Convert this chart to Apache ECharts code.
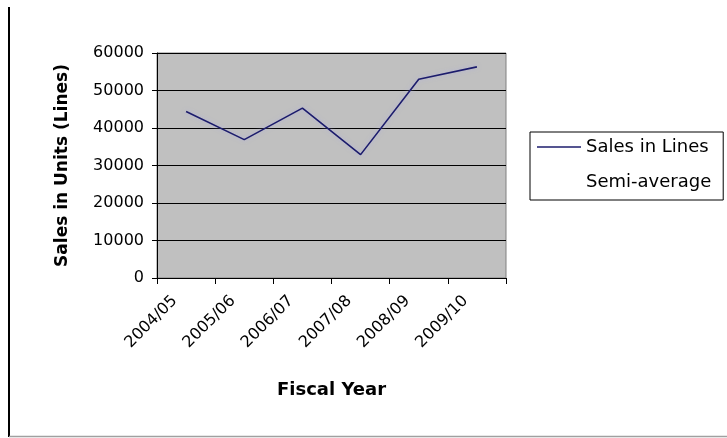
<!DOCTYPE html>
<html>
<head>
<meta charset="utf-8">
<script src="https://cdn.jsdelivr.net/npm/echarts@6/dist/echarts.min.js"></script>
<style>
html,body{margin:0;padding:0;background:#fff;}
#c{width:727px;height:438px;}
</style>
</head>
<body>
<div id="c"></div>
<script>
var categories = ['2004/05', '2005/06', '2006/07', '2007/08', '2008/09', '2009/10'];
var salesInLines = [44400, 36900, 45300, 32900, 53000, 56300];
var semiAverage = [];
var yTicks = { min: 0, max: 60000, interval: 10000 };

var chart = echarts.init(document.getElementById('c'), null, { renderer: 'canvas' });
var FONT = 'DejaVu Sans';
chart.setOption({
  animation: false,
  backgroundColor: '#ffffff',
  grid: {
    left: 157, right: 221, top: 53, bottom: 160,
    show: true, backgroundColor: '#c0c0c0', borderColor: '#808080', borderWidth: 1
  },
  legend: {
    orient: 'vertical',
    left: 530, top: 132,
    borderColor: '#000', borderWidth: 1,
    padding: [5, 12, 8, 7],
    itemGap: 15,
    itemWidth: 44, itemHeight: 1.5,
    textStyle: { fontFamily: FONT, fontSize: 18, color: '#000', lineHeight: 20 },
    data: [
      { name: 'Sales in Lines', icon: 'rect', itemStyle: { color: '#1c1c6c' } },
      { name: 'Semi-average', icon: 'none' }
    ]
  },
  xAxis: {
    type: 'category',
    data: categories,
    boundaryGap: true,
    name: 'Fiscal Year',
    nameLocation: 'middle',
    nameGap: 103,
    nameTextStyle: { fontFamily: FONT, fontSize: 18, fontWeight: 'bold', color: '#000' },
    axisLine: { lineStyle: { color: '#000', width: 1 } },
    axisTick: { show: true, alignWithLabel: false, length: 6, lineStyle: { color: '#000' } },
    axisLabel: {
      rotate: 45, interval: 0, margin: 9,
      fontFamily: FONT, fontSize: 16, color: '#000',
      padding: [0, 16, 0, 0]
    },
    splitLine: { show: false }
  },
  yAxis: {
    type: 'value',
    min: yTicks.min, max: yTicks.max, interval: yTicks.interval,
    name: 'Sales in Units (Lines)',
    nameLocation: 'middle',
    nameGap: 86,
    nameTextStyle: { fontFamily: FONT, fontSize: 17, fontWeight: 'bold', color: '#000' },
    axisLine: { show: true, lineStyle: { color: '#000', width: 1 } },
    axisTick: { show: true, length: 5, lineStyle: { color: '#000' } },
    axisLabel: { margin: 13, fontFamily: FONT, fontSize: 16, color: '#000', formatter: function (v) { return String(v); } },
    splitLine: { show: true, lineStyle: { color: '#000', width: 1 } }
  },
  series: [
    {
      name: 'Sales in Lines',
      type: 'line',
      data: salesInLines,
      symbol: 'none',
      color: '#1c1c6c',
      lineStyle: { color: '#1c1c6c', width: 1.6, shadowColor: 'rgba(170,170,230,0.7)', shadowBlur: 4 }
    },
    {
      name: 'Semi-average',
      type: 'line',
      data: semiAverage,
      symbol: 'none',
      color: 'rgba(0,0,0,0)',
      lineStyle: { color: 'rgba(0,0,0,0)' }
    }
  ],
  graphic: [
    { type: 'line', shape: { x1: 9, y1: 7, x2: 9, y2: 437 }, style: { stroke: '#000', lineWidth: 2 } },
    { type: 'line', shape: { x1: 9, y1: 436.5, x2: 727, y2: 436.5 }, style: { stroke: '#a0a0a0', lineWidth: 1.5 } }
  ]
});
</script>
</body>
</html>
